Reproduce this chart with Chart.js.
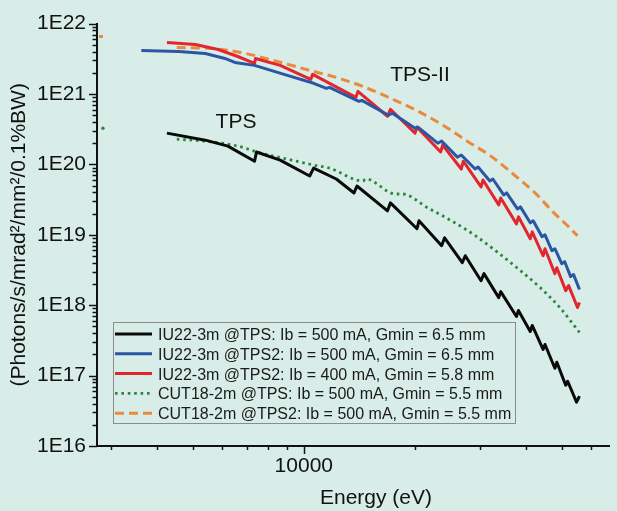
<!DOCTYPE html>
<html>
<head>
<meta charset="utf-8">
<script src="https://cdn.jsdelivr.net/npm/chart.js@4.4.1/dist/chart.umd.min.js"></script>
<style>
  html, body { margin: 0; padding: 0; background: #d8ede7; }
  canvas { display: block; }
</style>
</head>
<body>
<canvas id="fluxChart" width="617" height="511"></canvas>
<script>
// values: energy in eV, flux in photons/s/mrad2/mm2/0.1%BW
const iuTpsE = [4259, 5412, 6231, 7356, 7447, 8630, 10375, 10633, 12246, 13677, 13932, 16853, 17166,
  20260, 20512, 23622, 24062, 26867, 27374, 30200, 30761, 33729, 34146, 37670, 38136, 41054, 41561,
  44463, 45012, 47863, 48454, 51207, 51840, 54785, 55803];
const iuTpsF = [2.78e20, 2.21e20, 1.82e20, 1.11e20, 1.50e20, 1.15e20, 6.84e19, 8.87e19, 6.20e19, 3.93e19, 4.93e19, 2.19e19, 2.84e19,
  1.22e19, 1.58e19, 6.99e18, 9.07e18, 4.02e18, 5.04e18, 2.23e18, 2.81e18, 1.28e18, 1.56e18, 6.91e17, 8.41e17, 4.24e17, 5.16e17,
  2.36e17, 2.77e17, 1.27e17, 1.55e17, 7.30e16, 8.32e16, 4.20e16, 5.10e16];

const iuTps2E = [3631, 4585, 5412, 6117, 6505, 7356, 8845, 10633, 11519, 11733, 14104, 14366, 16957, 17378,
  20012, 20384, 23049, 23622, 26062, 26703, 29107, 29648, 31916, 32509, 34780, 35427, 37902, 38607,
  41054, 41818, 44191, 45012, 46989, 47863, 49963, 50893, 52804, 53785, 55803];
const iuTps2F = [4.15e21, 4.02e21, 3.76e21, 3.20e21, 2.81e21, 2.55e21, 1.90e21, 1.42e21, 1.20e21, 1.24e21, 7.87e20, 8.13e20, 4.99e20, 5.33e20,
  3.27e20, 3.38e20, 2.00e20, 2.14e20, 1.27e20, 1.36e20, 8.59e19, 9.17e19, 5.81e19, 6.20e19, 3.68e19, 3.93e19, 2.33e19, 2.49e19,
  1.48e19, 1.58e19, 9.37e18, 1.00e19, 5.94e18, 6.34e18, 3.89e18, 4.15e18, 2.55e18, 2.72e18, 1.67e18];

const iuTps2LowE = [4259, 5089, 5861, 6628, 7356, 7401, 8630, 10441, 10568, 13846, 14017, 16853, 17166,
  20012, 20260, 23478, 23768, 26703, 27040, 30200, 30573, 33729, 34146, 37670, 38136, 41054, 41561,
  44463, 45012, 47863, 48454, 51207, 52159, 55122, 55803];
const iuTps2LowF = [5.38e21, 5.05e21, 4.29e21, 3.41e21, 2.72e21, 3.20e21, 2.55e21, 1.61e21, 1.90e21, 8.97e20, 1.09e21, 4.83e20, 6.07e20,
  2.78e20, 3.38e20, 1.50e20, 1.88e20, 8.59e19, 1.11e20, 4.78e19, 6.00e19, 2.66e19, 3.34e19, 1.43e19, 1.80e19, 8.78e18, 1.10e19,
  5.04e18, 6.34e18, 2.81e18, 3.41e18, 1.61e18, 1.90e18, 9.27e17, 1.09e18];

// null = gap between the lone low-energy point and the rest of the curve
const cutTpsE = [2858, 3500, 4529, 5412, 6628, 7632, 9010, 10633, 11733, 14454, 14723, 17701, 18478,
  21677, 25119, 28929, 33317, 38607, 43652, 49354, 55803];
const cutTpsF = [3.27e20, null, 2.28e20, 2.14e20, 1.82e20, 1.45e20, 1.19e20, 9.79e19, 8.87e19, 5.81e19, 6.20e19, 3.80e19, 3.80e19,
  2.41e19, 1.58e19, 1.00e19, 5.75e18, 3.10e18, 1.78e18, 9.27e17, 4.10e17];

const cutTps2E = [2788, 2858, 3500, 4529, 5616, 6751, 8472, 10633, 12246, 14454, 17920, 20384, 24062,
  27713, 32113, 37438, 42594, 47280, 52481, 55122];
const cutTps2F = [6.55e21, 6.55e21, null, 4.57e21, 4.43e21, 3.89e21, 2.90e21, 2.09e21, 1.72e21, 1.28e21, 7.87e20, 5.69e20, 3.49e20,
  2.14e20, 1.31e20, 6.84e19, 3.80e19, 2.12e19, 1.26e19, 9.68e18];

const seriesLabels = [
  'IU22-3m @TPS: Ib = 500 mA, Gmin = 6.5 mm',
  'IU22-3m @TPS2: Ib = 500 mA, Gmin = 6.5 mm',
  'IU22-3m @TPS2: Ib = 400 mA, Gmin = 5.8 mm',
  'CUT18-2m @TPS: Ib = 500 mA, Gmin = 5.5 mm',
  'CUT18-2m @TPS2: Ib = 500 mA, Gmin = 5.5 mm'
];
const xLabelledTicks = [10000];
const xRange = [2754, 67080];
const yRange = [1e16, 1e22];

const FONT = '"Liberation Sans", Arial, sans-serif';
Chart.defaults.font.family = FONT;

function pairs(xs, ys) {
  return xs.map((x, i) => ({ x, y: ys[i] }));
}

function mantissa(v) {
  const e = Math.floor(Math.log10(v) + 1e-9);
  return v / Math.pow(10, e);
}
function isWholeStep(v) {
  const m = mantissa(v);
  return Math.abs(m - Math.round(m)) < 1e-6;
}
function isDecade(v) {
  return Math.abs(mantissa(v) - 1) < 1e-6;
}

// tick marks, curve group labels, x title and the boxed legend
const extras = {
  id: 'extras',
  afterDraw(chart) {
    const { ctx, scales: { x, y } } = chart;
    ctx.save();
    ctx.strokeStyle = '#111';
    ctx.lineWidth = 1.5;
    x.ticks.forEach(t => {
      if (!isWholeStep(t.value)) return;
      const px = Math.round(x.getPixelForValue(t.value)) + 0.5;
      const len = isDecade(t.value) ? 8 : 4;
      ctx.beginPath();
      ctx.moveTo(px, x.top);
      ctx.lineTo(px, x.top + len);
      ctx.stroke();
    });
    y.ticks.forEach(t => {
      if (!isWholeStep(t.value)) return;
      const py = Math.round(y.getPixelForValue(t.value)) + 0.5;
      const len = isDecade(t.value) ? 8 : 4.5;
      ctx.beginPath();
      ctx.moveTo(y.right, py);
      ctx.lineTo(y.right - len, py);
      ctx.stroke();
    });

    ctx.fillStyle = '#111';
    ctx.font = '21px ' + FONT;
    ctx.textAlign = 'center';
    ctx.textBaseline = 'middle';
    ctx.fillText('TPS', 236, 122);
    ctx.fillText('TPS-II', 420, 75);
    ctx.fillText('Energy (eV)', 376, 498);

    // legend
    ctx.strokeStyle = '#8c8c8c';
    ctx.lineWidth = 1;
    ctx.strokeRect(113.5, 322.5, 402, 101);
    chart.data.datasets.forEach((ds, i) => {
      const cy = 334 + i * 19.8;
      ctx.save();
      ctx.strokeStyle = ds.borderColor;
      ctx.lineWidth = ds.borderWidth;
      ctx.setLineDash(ds.borderDash || []);
      ctx.beginPath();
      ctx.moveTo(115, cy);
      ctx.lineTo(152, cy);
      ctx.stroke();
      ctx.restore();
      ctx.fillStyle = '#1a1a1a';
      ctx.font = '16px ' + FONT;
      ctx.textAlign = 'left';
      ctx.fillText(ds.label, 158, cy + 1.5);
    });
    ctx.restore();
  }
};

const lineBase = {
  pointRadius: 0,
  tension: 0,
  fill: false,
  borderJoinStyle: 'round',
  spanGaps: false
};

const cutTpsPoints = pairs(cutTpsE, cutTpsF);

new Chart(document.getElementById('fluxChart'), {
  type: 'line',
  data: {
    datasets: [
      { ...lineBase, label: seriesLabels[0], data: pairs(iuTpsE, iuTpsF), borderColor: '#0a0a0a', borderWidth: 3 },
      { ...lineBase, label: seriesLabels[1], data: pairs(iuTps2E, iuTps2F), borderColor: '#2b56a6', borderWidth: 3 },
      { ...lineBase, label: seriesLabels[2], data: pairs(iuTps2LowE, iuTps2LowF), borderColor: '#e3262d', borderWidth: 3 },
      { ...lineBase, label: seriesLabels[3], data: cutTpsPoints, borderColor: '#2e8540', borderWidth: 2.8,
        borderDash: [2.6, 3.8], cubicInterpolationMode: 'monotone',
        pointRadius: cutTpsPoints.map((_, i) => i === 0 ? 1.7 : 0),
        pointBackgroundColor: '#2e8540', pointBorderWidth: 0 },
      { ...lineBase, label: seriesLabels[4], data: pairs(cutTps2E, cutTps2F), borderColor: '#ea8a3c', borderWidth: 3,
        borderDash: [9, 5], cubicInterpolationMode: 'monotone' }
    ]
  },
  options: {
    responsive: false,
    animation: false,
    devicePixelRatio: 1,
    layout: { padding: { top: 22, right: 0, bottom: 0, left: 0 } },
    plugins: {
      legend: { display: false },
      tooltip: { enabled: false }
    },
    scales: {
      x: {
        type: 'logarithmic',
        min: xRange[0],
        max: xRange[1],
        grid: { display: false, drawTicks: false },
        border: { display: true, color: '#111', width: 2 },
        ticks: {
          autoSkip: false,
          maxRotation: 0,
          padding: 8,
          color: '#111',
          font: { size: 21 },
          callback: v => xLabelledTicks.includes(v) ? String(v) : ''
        },
        afterFit: s => { s.height = 65; }
      },
      y: {
        type: 'logarithmic',
        min: yRange[0],
        max: yRange[1],
        grid: { display: false, drawTicks: false },
        border: { display: true, color: '#111', width: 2 },
        ticks: {
          autoSkip: false,
          padding: 11,
          color: '#111',
          font: { size: 21 },
          callback: v => isDecade(v) ? '1E' + Math.round(Math.log10(v)) : ''
        },
        title: {
          display: true,
          text: '(Photons/s/mrad²/mm²/0.1%BW)',
          color: '#111',
          font: { size: 21 },
          padding: { top: 7, bottom: 0 }
        },
        afterFit: s => { s.width = 97; }
      }
    }
  },
  plugins: [extras]
});
</script>
</body>
</html>
